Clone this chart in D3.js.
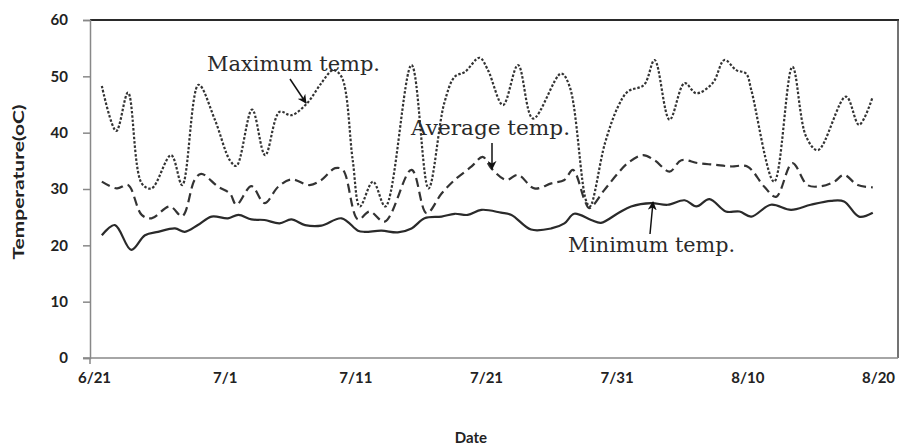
<!DOCTYPE html>
<html>
<head>
<meta charset="utf-8">
<script src="https://cdn.jsdelivr.net/npm/d3@7"></script>
<style>
  html, body { margin: 0; padding: 0; background: #fff; }
  svg { display: block; }
</style>
</head>
<body>
<svg id="chart" width="920" height="448"></svg>
<script>
// ---- data (day offset from 6/21, temperature in oC) ----
const xTickLabels = ["6/21", "7/1", "7/11", "7/21", "7/31", "8/10", "8/20"];
const xTickDays = [0, 10, 20, 30, 40, 50, 60];
const yTicks = [0, 10, 20, 30, 40, 50, 60];

const maxDays = [0.6, 1.7, 2.6, 3.65, 4.4, 5.9, 6.75, 8.0, 9.25, 10.4, 10.9, 12.1, 13.1, 14.2, 15.1, 16.3, 17.4, 18.3, 18.95, 19.8, 20.35, 21.35, 22.3, 24.3, 25.6, 26.8, 27.6, 28.4, 29.5, 30.15, 31.3, 32.45, 33.6, 35.75, 36.4, 37.65, 37.95, 39.1, 40.1, 40.85, 42.1, 42.9, 44.05, 45.2, 46.1, 47.35, 48.25, 49.15, 49.9, 50.3, 52.05, 53.45, 54.5, 55.4, 57.55, 58.55, 59.6];
const maxValues = [48.3, 40.3, 47.1, 31.0, 30.1, 36.0, 30.7, 48.5, 42.3, 35.1, 34.1, 44.1, 36.0, 43.7, 43.1, 45.2, 48.8, 51.1, 49.9, 35.1, 26.9, 31.3, 26.9, 52.0, 30.1, 45.2, 49.9, 50.8, 53.3, 51.1, 44.9, 52.0, 42.5, 50.5, 48.2, 28.0, 26.9, 38.1, 44.6, 47.3, 48.5, 52.9, 42.3, 48.8, 47.0, 48.8, 52.9, 51.1, 50.5, 47.6, 31.3, 51.7, 39.3, 36.9, 46.4, 41.4, 46.4];

const avgDays = [0.6, 1.75, 2.6, 3.65, 4.4, 5.8, 6.75, 7.7, 8.2, 9.5, 10.4, 10.9, 12.05, 13.05, 14.1, 15.1, 16.5, 17.4, 18.45, 19.05, 20.2, 21.1, 22.25, 24.3, 25.45, 26.6, 27.6, 28.9, 29.75, 30.4, 31.55, 32.45, 33.7, 35.0, 36.0, 36.65, 37.55, 37.9, 39.05, 40.1, 40.85, 42.0, 42.9, 44.05, 44.95, 46.2, 47.5, 48.75, 50.0, 51.3, 52.2, 53.45, 54.6, 55.65, 56.65, 57.4, 58.45, 59.6];
const avgValues = [31.3, 30.1, 30.7, 25.4, 24.8, 26.9, 25.2, 31.6, 32.7, 30.4, 29.2, 27.2, 30.5, 27.5, 30.4, 31.7, 30.7, 31.6, 33.7, 33.4, 24.6, 26.0, 24.2, 33.4, 25.7, 29.2, 31.6, 34.0, 35.7, 33.7, 31.6, 32.5, 30.1, 31.0, 31.6, 33.4, 28.0, 26.6, 29.8, 32.8, 34.6, 36.0, 35.1, 33.1, 35.1, 34.6, 34.3, 34.0, 34.0, 30.4, 28.6, 34.6, 30.7, 30.5, 31.3, 32.5, 30.7, 30.3];

const minDays = [0.6, 1.6, 2.85, 3.9, 4.9, 6.2, 6.95, 7.95, 9.0, 10.25, 11.05, 12.05, 13.05, 14.2, 15.1, 16.15, 17.4, 18.95, 20.2, 20.7, 22.0, 23.25, 24.3, 25.3, 26.6, 27.6, 28.6, 29.65, 31.15, 31.95, 33.45, 35.0, 36.0, 36.75, 38.05, 38.8, 40.1, 41.1, 42.65, 43.9, 45.2, 46.1, 47.1, 48.35, 49.4, 50.3, 51.8, 53.35, 54.85, 56.4, 57.4, 58.55, 59.6];
const minValues = [21.8, 23.6, 19.2, 21.8, 22.4, 23.0, 22.4, 23.6, 25.1, 24.8, 25.4, 24.6, 24.5, 23.9, 24.6, 23.6, 23.5, 24.8, 22.6, 22.4, 22.6, 22.3, 23.0, 24.8, 25.1, 25.6, 25.4, 26.3, 25.8, 25.4, 22.8, 23.0, 23.9, 25.6, 24.5, 24.0, 25.7, 26.9, 27.5, 27.2, 28.0, 26.9, 28.2, 26.0, 26.0, 25.1, 27.2, 26.3, 27.2, 27.9, 27.8, 25.1, 25.8];

const seriesNames = ["Maximum temp.", "Average temp.", "Minimum temp."];
const xTitle = "Date";
const yTitle = "Temperature(oC)";

// ---- drawing ----
const svg = d3.select("#chart");
const plotLeft = 90, plotRight = 898, plotTop = 20, plotBottom = 358;

const x = d3.scaleLinear().domain([0, 60]).range([94, 878]);
const y = d3.scaleLinear().domain([0, 60]).range([plotBottom, plotTop]);

// frame: top and right border
svg.append("line").attr("x1", plotLeft).attr("x2", plotRight + 1).attr("y1", plotTop).attr("y2", plotTop)
  .attr("stroke", "#2a2a2a").attr("stroke-width", 2);
svg.append("line").attr("x1", plotRight).attr("x2", plotRight).attr("y1", plotTop).attr("y2", plotBottom)
  .attr("stroke", "#444").attr("stroke-width", 1.5);

// y axis
const yAxis = d3.axisLeft(y).tickValues(yTicks).tickSize(7).tickPadding(15).tickFormat(d3.format("d"));
const gy = svg.append("g").attr("transform", `translate(${plotLeft},0)`).call(yAxis);
gy.select(".domain").attr("stroke", "#888").attr("stroke-width", 1.5);
gy.selectAll(".tick line").attr("stroke", "#888").attr("stroke-width", 1.5);
gy.selectAll(".tick text").attr("font-family", "Lato, 'Open Sans', sans-serif").attr("font-weight", 700)
  .attr("font-size", 15).attr("fill", "#222");

// x axis
const xAxis = d3.axisBottom(x).tickValues(xTickDays).tickSize(0).tickPadding(14)
  .tickFormat((d, i) => xTickLabels[i]);
const gx = svg.append("g").attr("transform", `translate(0,${plotBottom})`).call(xAxis);
gx.select(".domain").remove();
gx.append("line").attr("x1", plotLeft - 7).attr("x2", plotRight).attr("y1", 0).attr("y2", 0)
  .attr("stroke", "#888").attr("stroke-width", 1.5);
gx.append("line").attr("x1", plotLeft).attr("x2", plotLeft).attr("y1", 0).attr("y2", 6)
  .attr("stroke", "#888").attr("stroke-width", 1.5);
gx.selectAll(".tick text").attr("font-family", "Lato, 'Open Sans', sans-serif").attr("font-weight", 700)
  .attr("font-size", 15).attr("fill", "#222");

// axis titles
svg.append("text").attr("x", 471).attr("y", 443).attr("text-anchor", "middle")
  .attr("font-family", "Lato, 'Open Sans', sans-serif").attr("font-weight", 700).attr("font-size", 15)
  .attr("fill", "#222").text(xTitle);
svg.append("text").attr("transform", "translate(24,182) rotate(-90)").attr("text-anchor", "middle")
  .attr("font-family", "Lato, 'Open Sans', sans-serif").attr("font-weight", 700).attr("font-size", 16)
  .attr("textLength", 155).attr("lengthAdjust", "spacingAndGlyphs")
  .attr("fill", "#222").text(yTitle);

// lines
const curve = d3.curveCatmullRom.alpha(0.5);
function drawSeries(days, values, dash, width, color) {
  const pts = days.map((d, i) => [d, values[i]]);
  const line = d3.line().x(p => x(p[0])).y(p => y(p[1])).curve(curve);
  svg.append("path").datum(pts).attr("d", line).attr("fill", "none")
    .attr("stroke", color).attr("stroke-width", width)
    .attr("stroke-dasharray", dash).attr("stroke-linecap", "butt");
}
drawSeries(maxDays, maxValues, "2.5,1.8", 2.2, "#333");
drawSeries(avgDays, avgValues, "9,5", 2.2, "#333");
drawSeries(minDays, minValues, null, 2.2, "#2a2a2a");

// arrow marker
const defs = svg.append("defs");
defs.append("marker").attr("id", "arrow").attr("viewBox", "0 0 10 10").attr("refX", 9).attr("refY", 5)
  .attr("markerWidth", 9).attr("markerHeight", 9).attr("markerUnits", "userSpaceOnUse").attr("orient", "auto")
  .append("path").attr("d", "M0,0 L10,5 L0,10 L3,5 Z").attr("fill", "#111");

// annotations
const labelFont = "'DejaVu Serif', 'Liberation Serif', serif";
const labels = [
  { text: seriesNames[0], x: 207, y: 71, len: 173 },
  { text: seriesNames[1], x: 411, y: 135, len: 159 },
  { text: seriesNames[2], x: 568, y: 252, len: 167 }
];
labels.forEach(l => {
  svg.append("text").attr("x", l.x).attr("y", l.y).attr("font-family", labelFont)
    .attr("font-size", 20).attr("fill", "#2a2a2a")
    .attr("textLength", l.len).attr("lengthAdjust", "spacingAndGlyphs").text(l.text);
});
const arrows = [
  [290, 79, 306, 103],
  [492, 143, 492, 169],
  [650, 234, 653, 202]
];
arrows.forEach(a => {
  svg.append("line").attr("x1", a[0]).attr("y1", a[1]).attr("x2", a[2]).attr("y2", a[3])
    .attr("stroke", "#111").attr("stroke-width", 1.5).attr("marker-end", "url(#arrow)");
});
</script>
</body>
</html>
